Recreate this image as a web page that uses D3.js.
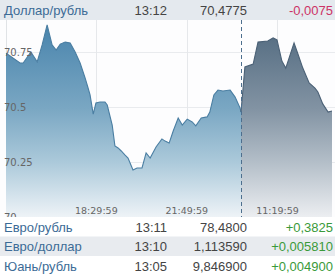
<!DOCTYPE html>
<html><head><meta charset="utf-8">
<script src="https://cdn.jsdelivr.net/npm/d3@7"></script>
<style>
html,body{margin:0;padding:0;background:#fff;}
svg{display:block;}
</style></head>
<body><svg id="c" width="335" height="274"></svg>
<script>
// ---- data ----
const day1Times = ["15:10","15:19","15:41","15:48","16:05","16:19","16:30","16:41","16:52","17:01","17:10","17:21","17:32","17:43","17:54","18:05","18:11","18:16","18:23","18:29","18:38","18:49","18:54","19:05","19:11","19:18","19:25","19:33","19:40","19:51","20:00","20:11","20:20","20:29","20:42","20:55","21:02","21:11","21:20","21:31","21:40","21:51","22:02","22:10","22:22","22:35","22:41","22:50","22:59","23:10","23:26","23:37","23:48","23:50"];
const day1Values = [70.745,70.732,70.700,70.700,70.750,70.705,70.782,70.873,70.782,70.759,70.786,70.795,70.791,70.750,70.700,70.632,70.591,70.555,70.468,70.518,70.523,70.523,70.509,70.418,70.323,70.314,70.300,70.282,70.268,70.214,70.223,70.223,70.291,70.268,70.318,70.355,70.345,70.336,70.391,70.450,70.418,70.445,70.432,70.414,70.450,70.455,70.477,70.555,70.577,70.573,70.577,70.545,70.495,70.477];
const day2Times = ["10:05","10:13","10:30","10:40","11:00","11:11","11:19","11:29","11:37","11:54","12:02","12:12","12:25","12:37","12:43","12:53","13:04","13:12"];
const day2Values = [70.477,70.682,70.695,70.795,70.800,70.814,70.805,70.709,70.677,70.791,70.741,70.677,70.609,70.586,70.568,70.514,70.477,70.482];
const xTickTimes = ["18:29:59","21:49:59","11:19:59"];
const xTickDays = [1,1,2];
const yTicks = [70,70.25,70.5,70.75];
const yTickLabels = ["70","70.25","70.5","70.75"];
const headPair = "Доллар/рубль", headTime = "13:12", headValue = "70,4775", headChange = "-0,0075";
const rowPairs = ["Евро/рубль","Евро/доллар","Юань/рубль"];
const rowTimes = ["13:11","13:10","13:05"];
const rowValues = ["78,4800","1,113590","9,846900"];
const rowChanges = ["+0,3825","+0,005810","+0,004900"];

// ---- helpers ----
function toDate(day, s){const p=s.split(":").map(Number);return new Date(2019,0,day,p[0],p[1],p[2]||0);}
const d1 = day1Times.map((t,i)=>({d:toDate(1,t),v:day1Values[i]}));
const d2 = day2Times.map((t,i)=>({d:toDate(2,t),v:day2Values[i]}));

const svg = d3.select("#c");
const x = d3.scaleTime()
  .domain([toDate(1,"15:10"),toDate(1,"23:50"),toDate(2,"10:05"),toDate(2,"13:12")])
  .range([6,241,241,332]);
const y = d3.scaleLinear().domain([70,70.9]).range([217,19]);
const plotTop = 20, plotBottom = 217;

const defs = svg.append("defs");
function grad(id, stops){
  const gr = defs.append("linearGradient").attr("id",id).attr("gradientUnits","userSpaceOnUse")
    .attr("x1",0).attr("x2",0).attr("y1",plotTop).attr("y2",plotBottom);
  stops.forEach(s=>gr.append("stop").attr("offset",s[0]).attr("stop-color",s[1]));
}
grad("gb",[[0,"#4682ab"],[0.45,"#7aa7c3"],[0.72,"#abc9da"],[1,"#eef3f7"]]);
grad("gg",[[0,"#4e677d"],[0.45,"#8293a3"],[0.72,"#b3bec8"],[1,"#eceef1"]]);
defs.append("clipPath").attr("id","clip").append("rect").attr("x",0).attr("y",plotTop).attr("width",335).attr("height",plotBottom-plotTop);

// background
svg.append("rect").attr("x",0).attr("y",0).attr("width",335).attr("height",274).attr("fill","#fdfdfe");

const g = svg.append("g").attr("clip-path","url(#clip)");
// grid
g.selectAll(".hg").data(yTicks.slice(1)).join("line")
  .attr("x1",6).attr("x2",335).attr("y1",d=>Math.round(y(d))+0.5).attr("y2",d=>Math.round(y(d))+0.5)
  .attr("stroke","#e9ebee").attr("stroke-width",1);
const tickDates = xTickTimes.map((t,i)=>toDate(xTickDays[i],t));
g.selectAll(".vg").data(tickDates).join("line")
  .attr("x1",d=>Math.round(x(d))+0.5).attr("x2",d=>Math.round(x(d))+0.5).attr("y1",plotTop).attr("y2",plotBottom)
  .attr("stroke","#e6e8eb").attr("stroke-width",1);
g.append("line").attr("x1",6.5).attr("x2",6.5).attr("y1",plotTop).attr("y2",plotBottom).attr("stroke","#e0e3e6");

// areas
const area = d3.area().x(d=>x(d.d)).y0(y(70)).y1(d=>y(d.v));
const line = d3.line().x(d=>x(d.d)).y(d=>y(d.v));
g.append("path").datum(d1).attr("d",area).attr("fill","url(#gb)");
g.append("path").datum(d2).attr("d",area).attr("fill","url(#gg)");
g.append("path").datum(d1).attr("d",line).attr("fill","none").attr("stroke","#4a7ea2").attr("stroke-width",1.1);
g.append("path").datum(d2).attr("d",line).attr("fill","none").attr("stroke","#4b6176").attr("stroke-width",1.1);

// dashed session divider
const xd = x(toDate(1,"23:50"))+0.5;
g.append("line").attr("x1",xd).attr("x2",xd)
  .attr("y1",plotTop).attr("y2",plotBottom).attr("stroke","#4d6f8e").attr("stroke-width",1).attr("stroke-dasharray","4,3");

// y labels
svg.selectAll(".yl").data(yTicks).join("text")
  .attr("x",4).attr("y",d=>y(d)).attr("dy","0.35em")
  .attr("font-family","DejaVu Sans, Verdana, sans-serif").attr("font-size",10).attr("fill","#666")
  .text((d,i)=>yTickLabels[i]);
// x labels
svg.selectAll(".xl").data(tickDates).join("text")
  .attr("x",d=>x(d)).attr("y",214).attr("text-anchor","middle")
  .attr("font-family","DejaVu Sans, Verdana, sans-serif").attr("font-size",9.5).attr("fill","#666")
  .text((d,i)=>xTickTimes[i]);

// header
svg.append("rect").attr("x",0).attr("y",0).attr("width",335).attr("height",20).attr("fill","#e4e9ee");
const font = "Liberation Sans, Arial, sans-serif";
function row(yb, pair, time, val, chg, chgColor){
  svg.append("text").attr("x",4).attr("y",yb).attr("font-family",font).attr("font-size",13).attr("fill","#3c6b96").text(pair);
  svg.append("text").attr("x",167).attr("y",yb).attr("text-anchor","end").attr("font-family",font).attr("font-size",13).attr("fill","#444").text(time);
  svg.append("text").attr("x",247).attr("y",yb).attr("text-anchor","end").attr("font-family",font).attr("font-size",13).attr("fill","#444").text(val);
  svg.append("text").attr("x",333).attr("y",yb).attr("text-anchor","end").attr("font-family",font).attr("font-size",13).attr("fill",chgColor).text(chg);
}
row(15, headPair, headTime, headValue, headChange, "#cc3366");

// bottom table
const rowTop = 217, rowH = 19.5;
rowPairs.forEach((p,i)=>{
  svg.append("rect").attr("x",0).attr("y",rowTop+i*rowH).attr("width",335).attr("height",rowH)
    .attr("fill", i===1 ? "#e8ebef" : "#ffffff");
});
rowPairs.forEach((p,i)=>{
  row(rowTop+i*rowH+14.5, p, rowTimes[i], rowValues[i], rowChanges[i], "#3a9a3a");
});
</script></body></html>
